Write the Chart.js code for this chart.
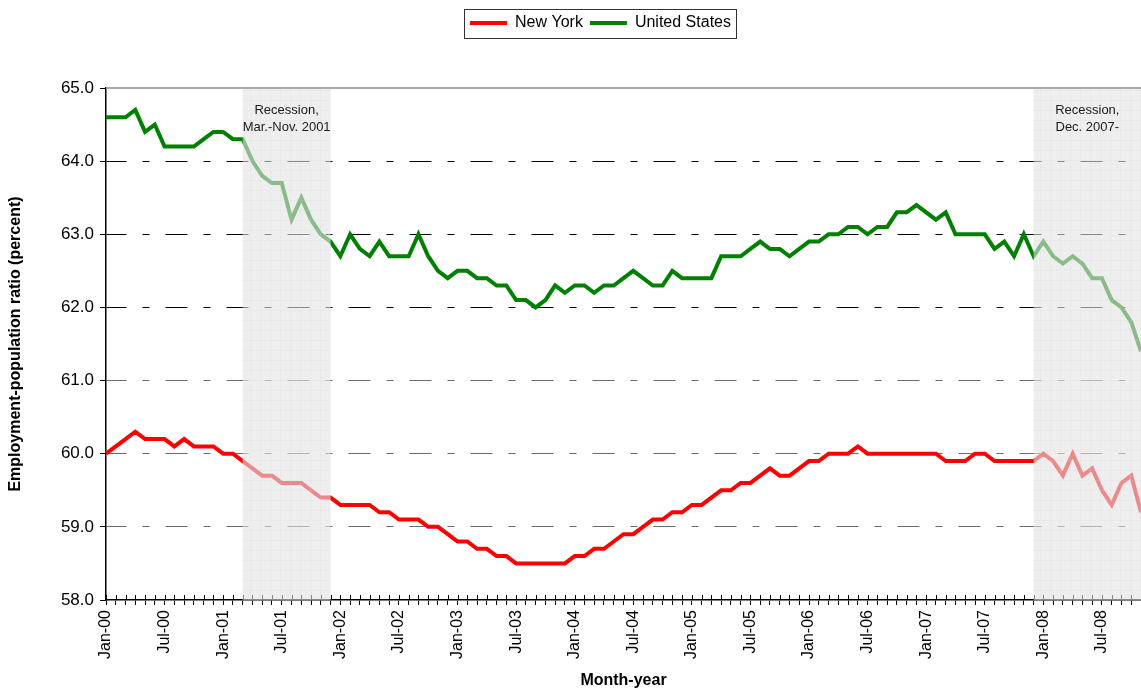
<!DOCTYPE html>
<html>
<head>
<meta charset="utf-8">
<script src="https://cdn.jsdelivr.net/npm/chart.js@4/dist/chart.umd.min.js"></script>
<style>
  html, body { margin: 0; padding: 0; background: #fff; }
  #wrap { width: 1141px; height: 690px; position: relative; }
</style>
</head>
<body>
<div id="wrap"><canvas id="chart"></canvas></div>
<script>
const MONTHS = ["Jan", "Feb", "Mar", "Apr", "May", "Jun", "Jul", "Aug", "Sep", "Oct", "Nov", "Dec"];
const YEARS = ["00", "01", "02", "03", "04", "05", "06", "07", "08"];

// one row per year, Jan..Dec (2008 ends in Nov)
const NEW_YORK = [
  60.0, 60.1, 60.2, 60.3, 60.2, 60.2, 60.2, 60.1, 60.2, 60.1, 60.1, 60.1,
  60.0, 60.0, 59.9, 59.8, 59.7, 59.7, 59.6, 59.6, 59.6, 59.5, 59.4, 59.4,
  59.3, 59.3, 59.3, 59.3, 59.2, 59.2, 59.1, 59.1, 59.1, 59.0, 59.0, 58.9,
  58.8, 58.8, 58.7, 58.7, 58.6, 58.6, 58.5, 58.5, 58.5, 58.5, 58.5, 58.5,
  58.6, 58.6, 58.7, 58.7, 58.8, 58.9, 58.9, 59.0, 59.1, 59.1, 59.2, 59.2,
  59.3, 59.3, 59.4, 59.5, 59.5, 59.6, 59.6, 59.7, 59.8, 59.7, 59.7, 59.8,
  59.9, 59.9, 60.0, 60.0, 60.0, 60.1, 60.0, 60.0, 60.0, 60.0, 60.0, 60.0,
  60.0, 60.0, 59.9, 59.9, 59.9, 60.0, 60.0, 59.9, 59.9, 59.9, 59.9, 59.9,
  60.0, 59.9, 59.7, 60.0, 59.7, 59.8, 59.5, 59.3, 59.6, 59.7, 59.2
];

const UNITED_STATES = [
  64.6, 64.6, 64.6, 64.7, 64.4, 64.5, 64.2, 64.2, 64.2, 64.2, 64.3, 64.4,
  64.4, 64.3, 64.3, 64.0, 63.8, 63.7, 63.7, 63.2, 63.5, 63.2, 63.0, 62.9,
  62.7, 63.0, 62.8, 62.7, 62.9, 62.7, 62.7, 62.7, 63.0, 62.7, 62.5, 62.4,
  62.5, 62.5, 62.4, 62.4, 62.3, 62.3, 62.1, 62.1, 62.0, 62.1, 62.3, 62.2,
  62.3, 62.3, 62.2, 62.3, 62.3, 62.4, 62.5, 62.4, 62.3, 62.3, 62.5, 62.4,
  62.4, 62.4, 62.4, 62.7, 62.7, 62.7, 62.8, 62.9, 62.8, 62.8, 62.7, 62.8,
  62.9, 62.9, 63.0, 63.0, 63.1, 63.1, 63.0, 63.1, 63.1, 63.3, 63.3, 63.4,
  63.3, 63.2, 63.3, 63.0, 63.0, 63.0, 63.0, 62.8, 62.9, 62.7, 63.0, 62.7,
  62.9, 62.7, 62.6, 62.7, 62.6, 62.4, 62.4, 62.1, 62.0, 61.8, 61.4
];

const CATEGORIES = YEARS
  .flatMap((y) => MONTHS.map((m) => m + "-" + y))
  .slice(0, NEW_YORK.length);

const RECESSIONS = [
  { from: "Mar-01", to: "Dec-01", text: ["Recession,", "Mar.-Nov. 2001"] },
  { from: "Dec-07", to: null, text: ["Recession,", "Dec. 2007-"] },
];

const FONT = "'Liberation Sans', Arial, sans-serif";

function shadePattern(ctx) {
  const tile = document.createElement("canvas");
  tile.width = 10;
  tile.height = 10;
  const t = tile.getContext("2d");
  t.fillStyle = "rgba(226,226,226,0.6)";
  t.fillRect(0, 0, 10, 10);
  t.fillStyle = "rgba(210,210,210,0.18)";
  t.fillRect(0, 0, 10, 1);
  t.fillRect(0, 0, 1, 10);
  return ctx.createPattern(tile, "repeat");
}

const framePlugin = {
  id: "frame",
  afterLayout(chart) {
    // move the legend to the same place as the original
    chart.legend.left += 30;
    chart.legend.right += 30;
  },
  beforeDatasetsDraw(chart) {
    const { ctx, chartArea } = chart;
    ctx.save();
    ctx.strokeStyle = "#8c8c8c";
    ctx.lineWidth = 1.5;
    ctx.beginPath();
    ctx.moveTo(chartArea.left, chartArea.top);
    ctx.lineTo(chartArea.right, chartArea.top);
    ctx.stroke();
    ctx.restore();
  },
  afterDatasetsDraw(chart) {
    const { ctx, chartArea, scales } = chart;
    const x = scales.x;
    ctx.save();
    // upper half of the month ticks
    ctx.strokeStyle = "#000";
    ctx.lineWidth = 1;
    ctx.beginPath();
    CATEGORIES.forEach((c, i) => {
      const px = Math.round(x.getPixelForValue(i)) + 0.5;
      ctx.moveTo(px, chartArea.bottom - 5);
      ctx.lineTo(px, chartArea.bottom);
    });
    ctx.stroke();

    const pattern = shadePattern(ctx);
    RECESSIONS.forEach((r) => {
      const left = x.getPixelForValue(CATEGORIES.indexOf(r.from));
      const right = r.to ? x.getPixelForValue(CATEGORIES.indexOf(r.to)) : chartArea.right;
      ctx.fillStyle = pattern;
      ctx.fillRect(left, chartArea.top + 1, right - left, chartArea.bottom - chartArea.top - 1);
      ctx.fillStyle = "#1a1a1a";
      ctx.font = "13px " + FONT;
      ctx.textAlign = "center";
      ctx.textBaseline = "middle";
      r.text.forEach((line, k) => {
        ctx.fillText(line, (left + right) / 2, chartArea.top + 22 + k * 17);
      });
    });
    ctx.restore();
  },
  afterDraw(chart) {
    const { ctx } = chart;
    const boxes = chart.legend.legendHitBoxes;
    if (!boxes || !boxes.length) return;
    const first = boxes[0];
    const last = boxes[boxes.length - 1];
    ctx.save();
    ctx.strokeStyle = "#333";
    ctx.lineWidth = 1;
    const l = Math.round(first.left - 6) + 0.5;
    const r = Math.round(last.left + last.width + 5) + 0.5;
    const t = Math.round(first.top - 6) + 0.5;
    const b = Math.round(first.top + first.height + 7) + 0.5;
    ctx.strokeRect(l, t, r - l, b - t);
    ctx.restore();
  },
};

const chart = new Chart(document.getElementById("chart"), {
  type: "line",
  data: {
    labels: CATEGORIES,
    datasets: [
      {
        label: "New York",
        data: NEW_YORK,
        borderColor: "#ff0000",
        backgroundColor: "#ff0000",
        borderWidth: 4,
        pointRadius: 0,
        tension: 0,
      },
      {
        label: "United States",
        data: UNITED_STATES,
        borderColor: "#008000",
        backgroundColor: "#008000",
        borderWidth: 4,
        pointRadius: 0,
        tension: 0,
      },
    ],
  },
  options: {
    responsive: true,
    maintainAspectRatio: false,
    animation: false,
    layout: { padding: { top: 8, left: 0, right: 0, bottom: 0 } },
    plugins: {
      tooltip: { enabled: false },
      legend: {
        display: true,
        position: "top",
        labels: {
          usePointStyle: true,
          pointStyle: "line",
          pointStyleWidth: 37,
          padding: 7,
          color: "#000",
          font: { family: FONT, size: 16 },
        },
      },
      // spacer between legend and plot
      subtitle: {
        display: true,
        text: "",
        weight: 500,
        font: { size: 10, lineHeight: 1 },
        padding: { top: 37, bottom: 0 },
      },
    },
    scales: {
      x: {
        grid: {
          drawOnChartArea: false,
          tickLength: 5,
          tickColor: "#000",
        },
        border: { color: "#000", width: 1.5 },
        ticks: {
          autoSkip: false,
          maxRotation: 90,
          minRotation: 90,
          padding: 5,
          color: "#000",
          font: { family: FONT, size: 16 },
          callback: (value, index) => {
            const label = CATEGORIES[index];
            return label.startsWith("Jan") || label.startsWith("Jul") ? label : "";
          },
        },
        title: {
          display: true,
          text: "Month-year",
          color: "#000",
          font: { family: FONT, size: 16, weight: "bold" },
          padding: { top: 0, bottom: 0 },
        },
        afterFit: (scale) => {
          scale.height = 90;
          scale.paddingLeft = 0;
          scale.paddingRight = 0;
        },
      },
      y: {
        min: 58,
        max: 65,
        grid: {
          color: (ctx) => {
            const v = ctx.tick.value;
            if (v <= 58 || v >= 65) return "rgba(0,0,0,0)";
            return v >= 62 ? "#000" : "#6a6a6a";
          },
          lineWidth: 1,
          tickLength: 6,
          tickColor: "#000",
          tickBorderDash: [],
        },
        border: { color: "#000", width: 1.5, dash: [22, 16, 7, 16], dashOffset: 2 },
        ticks: {
          stepSize: 1,
          padding: 6,
          color: "#000",
          font: { family: FONT, size: 17 },
          callback: (v) => Number(v).toFixed(1),
        },
        title: {
          display: true,
          text: "Employment-population ratio (percent)",
          color: "#000",
          font: { family: FONT, size: 16, weight: "bold" },
          padding: { top: 6, bottom: 0 },
        },
        afterFit: (scale) => {
          scale.width = 106;
        },
      },
    },
  },
  plugins: [framePlugin],
});
</script>
</body>
</html>
